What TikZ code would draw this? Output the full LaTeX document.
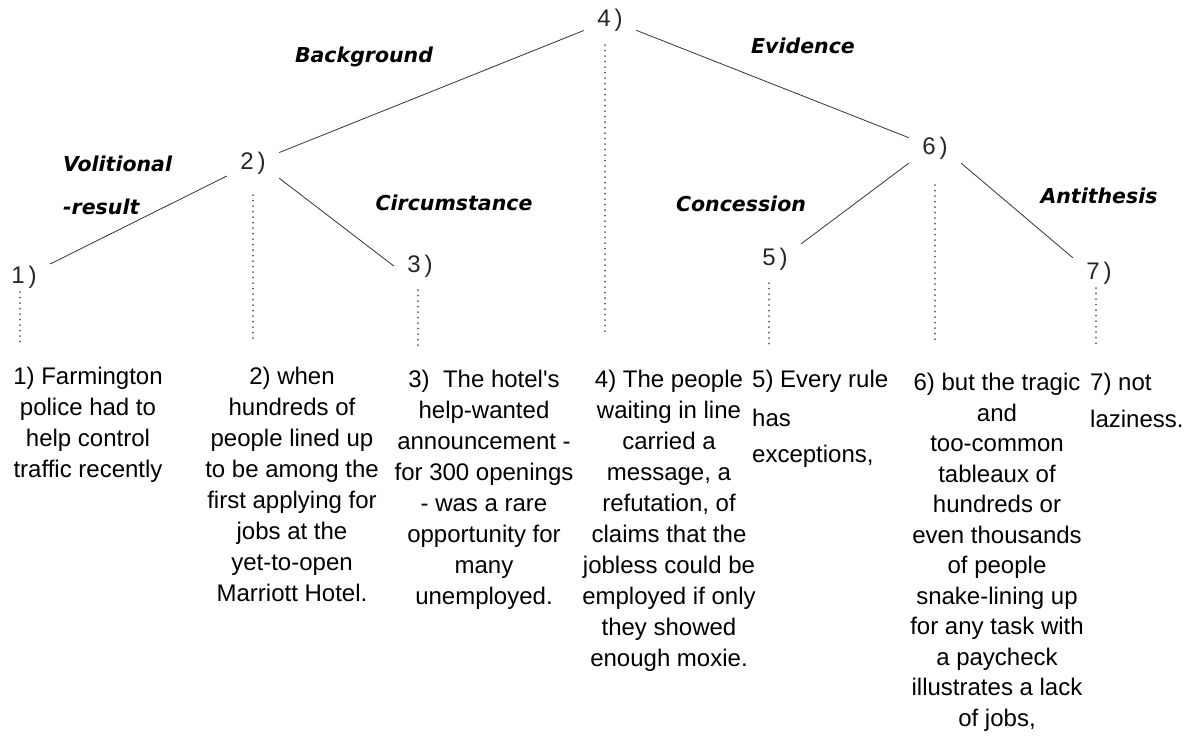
\documentclass[tikz,border=0pt]{standalone}
\usepackage{fontspec}
\setmainfont{Liberation Sans}
\newfontfamily\relfont{DejaVu Sans Bold Oblique}
\usetikzlibrary{calc}

\tikzset{
  spanlbl/.style={minimum width=52pt,minimum height=30pt,inner sep=0pt,text=black!85,
    font=\fontsize{24}{28}\selectfont},
  rellbl/.style={inner sep=0pt,font=\relfont\fontsize{20.5}{43}\selectfont},
  edutext/.style={inner sep=0pt,anchor=north,align=center,font=\fontsize{24}{31}\selectfont},
  edge/.style={black!80,line width=0.8pt},
  dotline/.style={gray!70!black,line width=2pt,line cap=round,dash pattern=on 0pt off 5.5pt},
}

\begin{document}
\begin{tikzpicture}[x=1pt,y=-1pt]
    \useasboundingbox (0,0) rectangle (1196,738);

    \node[spanlbl] (n4) at (610,20) {4\,)};
    \node[spanlbl] (n2) at (253,163) {2\,)};
    \node[spanlbl] (n6) at (935,148) {6\,)};
    \node[spanlbl] (n1) at (24,277) {1\,)};
    \node[spanlbl] (n3) at (420,266) {3\,)};
    \node[spanlbl] (n5) at (775,259) {5\,)};
    \node[spanlbl] (n7) at (1099,273) {7\,)};

    \draw[edge] (n4) -- (n2);
    \draw[edge] (n4) -- (n6);
    \draw[edge] (n2) -- (n1);
    \draw[edge] (n2.south east) -- (n3.west);
    \draw[edge] (n6.south west) -- (n5.north east);
    \draw[edge] (n6.south east) -- (n7.north west);

    \node[rellbl] (bg) at (364,57) {Background};
    \node[rellbl] (ev) at (803,46) {Evidence};
    \node[rellbl,anchor=west,align=left] (vr) at (63,185) {Volitional\\-result};
    \node[rellbl] (ci) at (454,203) {Circumstance};
    \node[rellbl] (co) at (741,204) {Concession};
    \node[rellbl] (an) at (1099,196) {Antithesis};

    \foreach \n/\dx/\dy/\len in {n1/-4/0/53, n2/0/17/145, n3/-2/9/55, n4/-5/10/288,
        n5/-6/9/62, n6/0/22/155, n7/-3/0/57}
        \draw[dotline] ($(\n.south)+(\dx,\dy)$) -- ++(0,\len);

    \node[edutext] (t1) at (88,367) {1) Farmington\\police had to\\help control\\traffic recently};
    \node[edutext] (t2) at (292,367) {2) when\\hundreds of\\people lined up\\to be among the\\first applying for\\jobs at the\\yet-to-open\\Marriott Hotel.};
    \node[edutext] (t3) at (484,370) {3)\ \ The hotel\textquotesingle s\\help-wanted\\announcement -\\for 300 openings\\- was a rare\\opportunity for\\many\\unemployed.};
    \node[edutext] (t4) at (669,370) {4) The people\\waiting in line\\carried a\\message, a\\refutation, of\\claims that the\\jobless could be\\employed if only\\they showed\\enough moxie.};
    \node[edutext,anchor=north west,align=left] (t5) at (752,370) {5) Every rule\\[8pt]has\\[5pt]exceptions,};
    \node[edutext,font=\fontsize{24}{30.5}\selectfont] (t6) at (997,373) {6) but the tragic\\and\\too-common\\tableaux of\\hundreds or\\even thousands\\of people\\snake-lining up\\for any task with\\a paycheck\\illustrates a lack\\of jobs,};
    \node[edutext,anchor=north west,align=left] (t7) at (1090,373) {7) not\\[6pt]laziness.};
\end{tikzpicture}
\end{document}
